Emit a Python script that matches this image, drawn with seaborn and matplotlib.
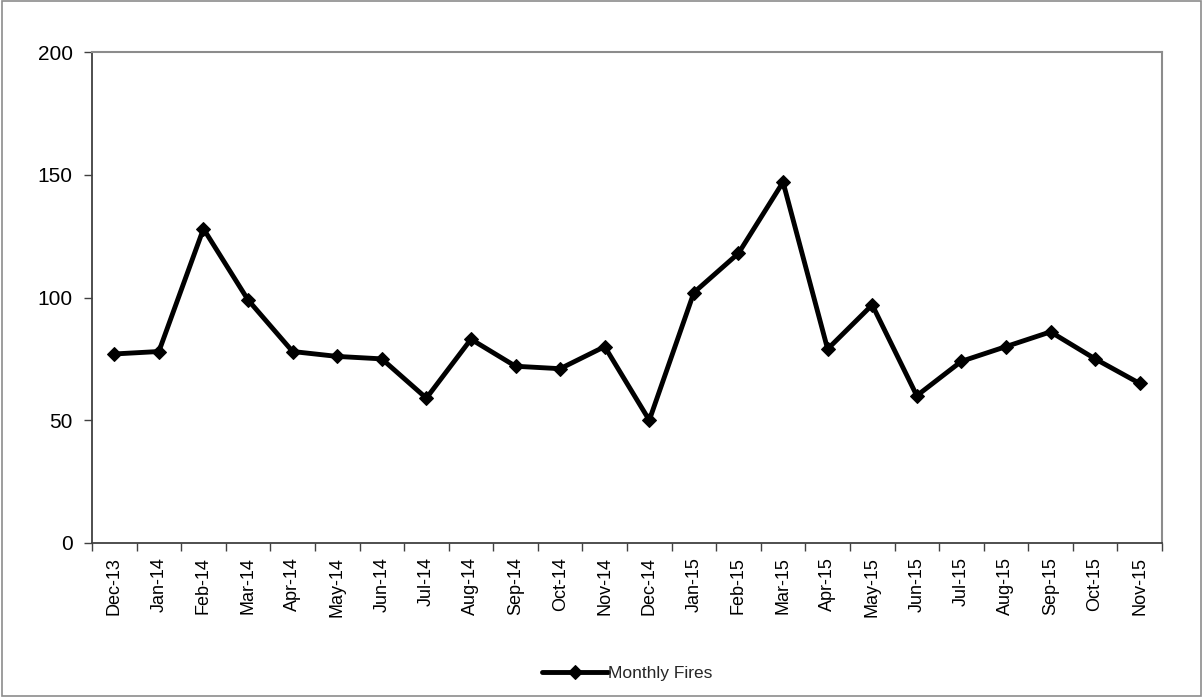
import matplotlib
matplotlib.use("Agg")
import matplotlib.pyplot as plt
import seaborn as sns
import pandas as pd
import numpy as np
from matplotlib.ticker import FixedLocator, NullFormatter, FixedFormatter

months = ["Dec-13", "Jan-14", "Feb-14", "Mar-14", "Apr-14", "May-14", "Jun-14",
          "Jul-14", "Aug-14", "Sep-14", "Oct-14", "Nov-14", "Dec-14", "Jan-15",
          "Feb-15", "Mar-15", "Apr-15", "May-15", "Jun-15", "Jul-15", "Aug-15",
          "Sep-15", "Oct-15", "Nov-15"]
fires = [77, 78, 128, 99, 78, 76, 75, 59, 83, 72, 71, 80, 50, 102, 118, 147,
         79, 97, 60, 74, 80, 86, 75, 65]
y_ticks = [0, 50, 100, 150, 200]

sns.set_theme(style="white")
plt.rcParams["font.family"] = ["Liberation Sans", "DejaVu Sans"]

df = pd.DataFrame({"pos": np.arange(len(months)), "month": months, "fires": fires})

fig = plt.figure(figsize=(12.03, 6.97), dpi=100)
fig.patch.set_facecolor("white")
ax = fig.add_axes([92 / 1203, 1 - 543 / 697, (1162 - 92) / 1203, (543 - 52) / 697])

sns.lineplot(data=df, x="pos", y="fires", ax=ax, color="black", linewidth=3.5,
             marker="D", markersize=7, markeredgecolor="black",
             label="Monthly Fires")

ax.set_xlim(-0.5, len(months) - 0.5)
ax.set_ylim(0, 200)
ax.set_xlabel("")
ax.set_ylabel("")

# major ticks on category boundaries, labels centred on categories
ax.xaxis.set_major_locator(FixedLocator(np.arange(-0.5, len(months), 1.0)))
ax.xaxis.set_major_formatter(NullFormatter())
ax.xaxis.set_minor_locator(FixedLocator(np.arange(len(months))))
ax.xaxis.set_minor_formatter(FixedFormatter(months))
ax.tick_params(axis="x", which="major", direction="out", length=6, width=1,
               color="#404040", bottom=True)
ax.tick_params(axis="x", which="minor", length=0, labelsize=13, rotation=90, pad=10,
               labelcolor="black")

ax.set_yticks(y_ticks)
ax.tick_params(axis="y", direction="out", length=6, width=1, color="#404040",
               left=True, labelsize=15, pad=8, labelcolor="black")

for side in ["left", "bottom"]:
    ax.spines[side].set_color("#404040")
    ax.spines[side].set_linewidth(1.3)
for side in ["top", "right"]:
    ax.spines[side].set_color("#8c8c8c")
    ax.spines[side].set_linewidth(1.5)
    ax.spines[side].set_visible(True)

ax.legend(loc="center", bbox_to_anchor=(0.5, -0.265), frameon=False, fontsize=12.5,
          handlelength=3.8, handletextpad=0.0)

# outer chart border
fig.add_artist(plt.Rectangle((0.002, 0.002), 0.996, 0.996, transform=fig.transFigure,
                             fill=False, edgecolor="#8c8c8c", linewidth=1.2))

fig.savefig("out.png", dpi=100)
